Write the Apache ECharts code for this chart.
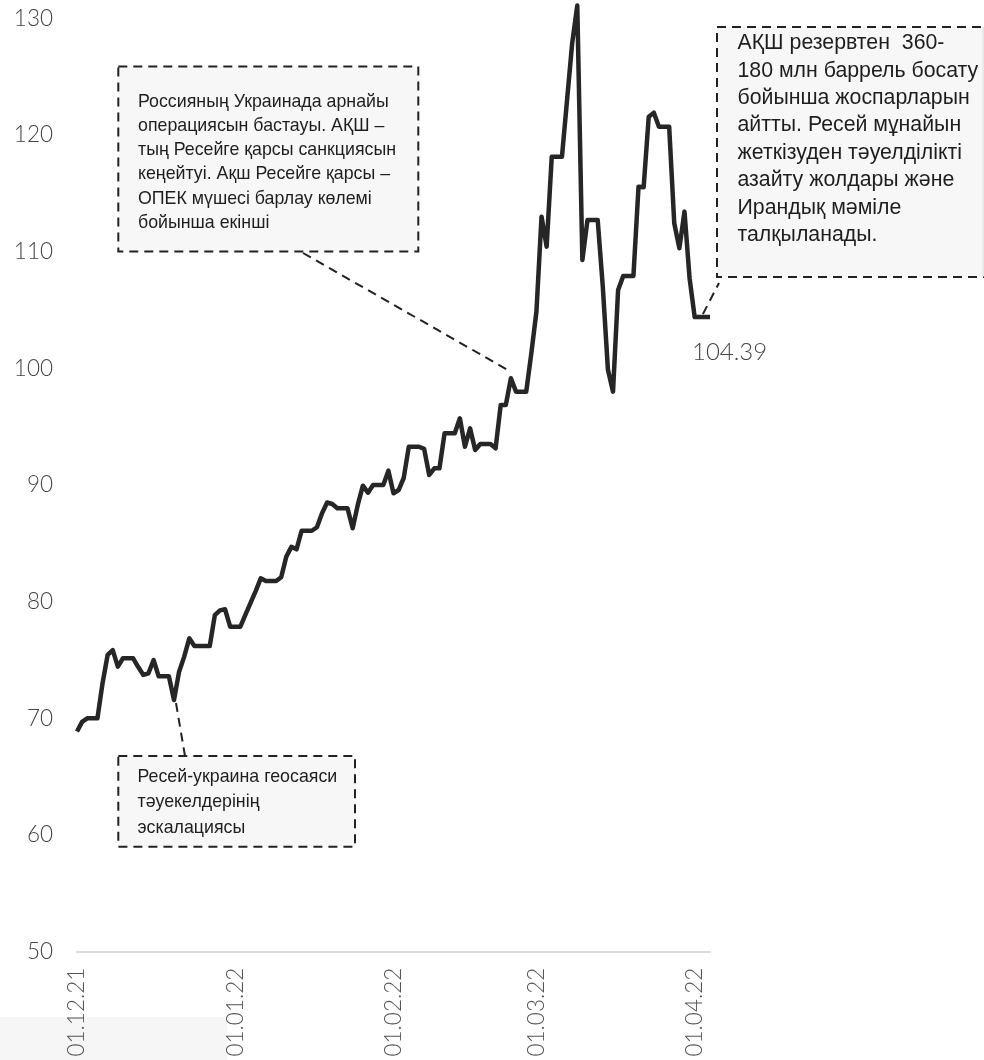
<!DOCTYPE html>
<html><head><meta charset="utf-8">
<script src="https://cdn.jsdelivr.net/npm/echarts@6/dist/echarts.min.js"></script>
<style>html,body{margin:0;padding:0;background:#fff}#c{width:984px;height:1060px}</style>
</head><body><div id="c"></div>
<script>
// Dates (daily, weekends carried forward) and Brent price, USD/bbl
const dates = [
'01.12.21','02.12.21','03.12.21','04.12.21','05.12.21','06.12.21','07.12.21','08.12.21','09.12.21','10.12.21',
'11.12.21','12.12.21','13.12.21','14.12.21','15.12.21','16.12.21','17.12.21','18.12.21','19.12.21','20.12.21',
'21.12.21','22.12.21','23.12.21','24.12.21','25.12.21','26.12.21','27.12.21','28.12.21','29.12.21','30.12.21','31.12.21',
'01.01.22','02.01.22','03.01.22','04.01.22','05.01.22','06.01.22','07.01.22','08.01.22','09.01.22','10.01.22',
'11.01.22','12.01.22','13.01.22','14.01.22','15.01.22','16.01.22','17.01.22','18.01.22','19.01.22','20.01.22',
'21.01.22','22.01.22','23.01.22','24.01.22','25.01.22','26.01.22','27.01.22','28.01.22','29.01.22','30.01.22','31.01.22',
'01.02.22','02.02.22','03.02.22','04.02.22','05.02.22','06.02.22','07.02.22','08.02.22','09.02.22','10.02.22',
'11.02.22','12.02.22','13.02.22','14.02.22','15.02.22','16.02.22','17.02.22','18.02.22','19.02.22','20.02.22',
'21.02.22','22.02.22','23.02.22','24.02.22','25.02.22','26.02.22','27.02.22','28.02.22',
'01.03.22','02.03.22','03.03.22','04.03.22','05.03.22','06.03.22','07.03.22','08.03.22','09.03.22','10.03.22',
'11.03.22','12.03.22','13.03.22','14.03.22','15.03.22','16.03.22','17.03.22','18.03.22','19.03.22','20.03.22',
'21.03.22','22.03.22','23.03.22','24.03.22','25.03.22','26.03.22','27.03.22','28.03.22','29.03.22','30.03.22','31.03.22',
'01.04.22','02.04.22','03.04.22','04.04.22'
];
const prices = [
68.87,69.70,70.00,70.00,70.00,73.00,75.43,75.85,74.43,75.15,
75.15,75.15,74.40,73.72,73.86,75.00,73.60,73.60,73.60,71.57,
74.00,75.29,76.86,76.20,76.20,76.20,76.20,78.85,79.25,79.35,77.86,
77.86,77.86,78.90,79.90,80.90,82.00,81.77,81.77,81.77,82.10,
83.86,84.70,84.49,86.08,86.08,86.08,86.38,87.58,88.50,88.37,
88.00,88.00,88.00,86.29,88.29,89.94,89.34,90.00,90.00,90.00,91.23,
89.29,89.57,90.60,93.28,93.28,93.28,93.10,90.86,91.43,91.43,
94.43,94.43,94.43,95.72,93.28,94.86,93.00,93.52,93.52,93.52,
93.15,96.86,96.86,99.15,98.00,98.00,98.00,101.29,
104.86,113.00,110.43,118.14,118.14,118.14,123.00,127.86,131.10,109.29,
112.72,112.72,112.72,107.00,99.90,98.00,106.72,107.92,107.92,107.92,
115.57,115.52,121.57,121.91,120.71,120.71,120.71,112.43,110.29,113.43,107.72,
104.39,104.39,104.39,104.39
];
const yMin = 50, yMax = 130, yStep = 10;

const note1 = ['Россияның Украинада арнайы','операциясын бастауы. АҚШ –','тың Ресейге қарсы санкциясын','кеңейтуі. Ақш Ресейге қарсы –','ОПЕК мүшесі барлау көлемі','бойынша екінші'];
const note2 = ['Ресей-украина геосаяси','тәуекелдерінің','эскалациясы'];
const note3 = ['АҚШ резервтен  360-','180 млн баррель босату','бойынша жоспарларын','айтты. Ресей мұнайын','жеткізуден тәуелділікті','азайту жолдары және','Ирандық мәміле','талқыланады.'];
const anchor1 = 85, anchor2 = 19, anchor3 = 123;

const chart = echarts.init(document.getElementById('c'), null, {renderer:'canvas'});
chart.setOption({
  animation:false,
  backgroundColor:'#ffffff',
  grid:{left:77, right:274, top:18.3, bottom:108.3, containLabel:false},
  xAxis:{
    type:'category', data:dates, boundaryGap:false,
    axisLine:{show:true, lineStyle:{color:'#d9d9d9', width:2}},
    axisTick:{show:false},
    splitLine:{show:false},
    axisLabel:{rotate:90, fontSize:22.5, margin:16, color:'#555',
      fontFamily:'Lato', fontWeight:300,
      interval:function(i, v){ return v.slice(0,3)==='01.'; }}
  },
  yAxis:{
    type:'value', min:yMin, max:yMax, interval:yStep,
    axisLine:{show:false}, axisTick:{show:false}, splitLine:{show:false},
    axisLabel:{fontSize:22.5, margin:24, fontFamily:'Lato', fontWeight:300, color:'#444'}
  },
  series:[{
    type:'line', data:prices, showSymbol:false, symbol:'none', clip:false,
    lineStyle:{color:'#262626', width:4.5, join:'round'},
    endLabel:{show:true, formatter:function(p){return p.value.toFixed(2);}, 
      fontFamily:'Lato', fontWeight:300, fontSize:24, color:'#444',
      distance:0, offset:[-18,35], align:'left', verticalAlign:'middle'}
  }]
});

function px(i){ return chart.convertToPixel({gridIndex:0}, [i, prices[i]]); }
const a1 = px(anchor1), a2 = px(anchor2), a3 = px(anchor3);
const dash = {stroke:'#222', lineWidth:2, lineDash:[9,6]};
function box(x,y,w,h){ return {type:'rect', shape:{x:x,y:y,width:w,height:h}, style:Object.assign({fill:'#f7f7f7'}, dash), z:10}; }
function txt(lines,x,y,fs,lh){ return {type:'text', x:x, y:y, z:11, style:{text:lines.join('\n'), fontFamily:'"Liberation Sans", Arial, sans-serif', fontSize:fs, lineHeight:lh, fill:'#1e1e1e', verticalAlign:'top', align:'left'}}; }
function seg(x1,y1,x2,y2){ return {type:'line', shape:{x1:x1,y1:y1,x2:x2,y2:y2}, style:Object.assign({}, dash), z:9}; }
chart.setOption({graphic:[
  {type:'rect', shape:{x:0,y:1017,width:227,height:43}, style:{fill:'#f6f6f6'}, z:0, silent:true},
  seg(303, 253, a1[0]-1, a1[1]-7),
  seg(a2[0]+2, a2[1]+3, 185, 756),
  seg(a3[0]-2, a3[1]-3, 719, 283),
  box(118.3, 66.5, 300, 185),
  txt(note1, 138, 89.5, 17.8, 24.3),
  box(118.3, 756, 236.7, 90.7),
  txt(note2, 137.5, 764.5, 17.8, 25.3),
  box(717, 27, 290, 250),
  {type:'line', shape:{x1:983,y1:27,x2:983,y2:277}, style:{stroke:'#dcdcdc', lineWidth:1}, z:12},
  txt(note3, 737.5, 29.6, 21.3, 27.4)
]});
</script></body></html>
